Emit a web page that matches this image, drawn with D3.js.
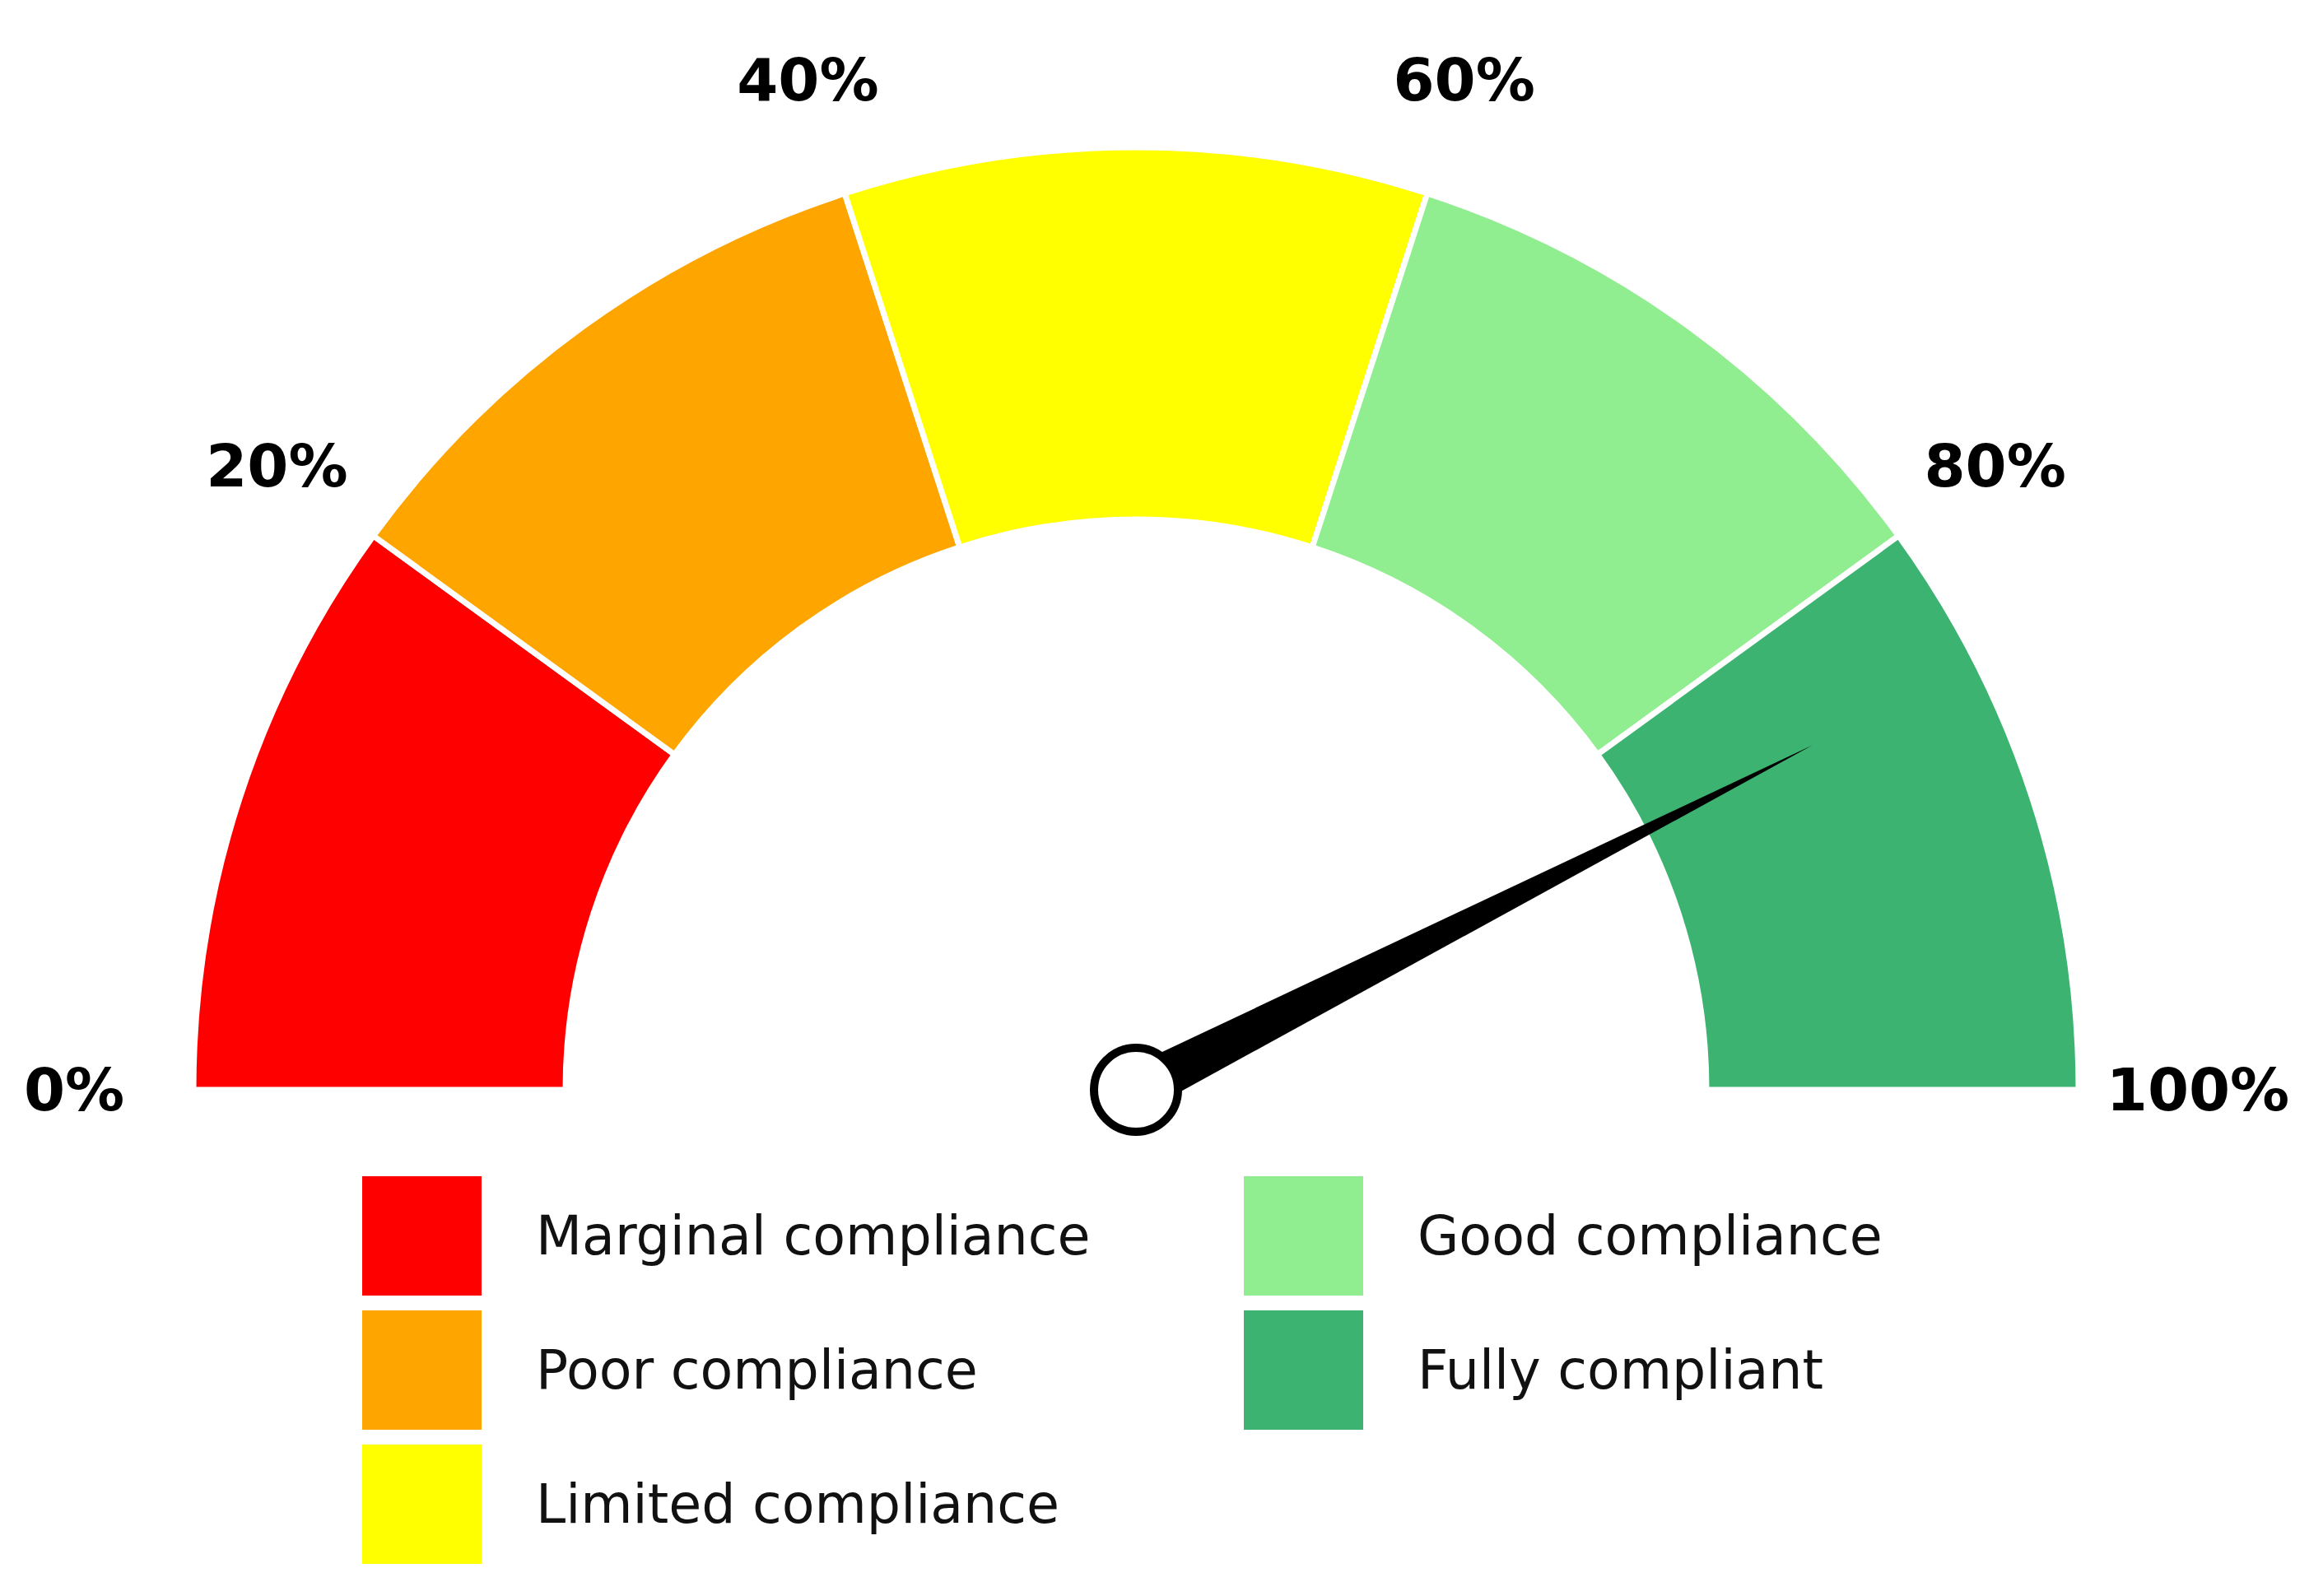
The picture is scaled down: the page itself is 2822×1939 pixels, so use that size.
<!DOCTYPE html>
<html><head><meta charset="utf-8">
<script src="https://cdn.jsdelivr.net/npm/d3@7"></script>
<style>body{margin:0;background:#fff}</style>
</head><body>
<svg id="chart" width="2822" height="1939"></svg>
<script>
const categories = ["Marginal compliance", "Poor compliance", "Limited compliance", "Good compliance", "Fully compliant"];
const colors = ["#ff0000", "#ffa500", "#ffff00", "#90ee90", "#3cb371"];
const tickLabels = ["0%", "20%", "40%", "60%", "80%", "100%"];
const tickValues = [0, 20, 40, 60, 80, 100];
const needleValue = 85;

const svg = d3.select("#chart");
const cx = 1380, cy = 1324, rOut = 1145, rIn = 693;
// value (0..100) -> angle in d3.arc convention (0 = up, clockwise)
const ang = d3.scaleLinear().domain([0, 100]).range([-Math.PI / 2, Math.PI / 2]);
const g = svg.append("g").attr("transform", `translate(${cx},${cy})`);

const arc = d3.arc().innerRadius(rIn).outerRadius(rOut);
g.selectAll("path.seg").data(categories).join("path")
  .attr("class", "seg")
  .attr("d", (d, i) => arc({startAngle: ang(i * 20), endAngle: ang((i + 1) * 20)}))
  .attr("fill", (d, i) => colors[i])
  .attr("stroke", "#fff").attr("stroke-width", 7);

const rLab = 1290;
g.selectAll("text.tick").data(tickValues).join("text")
  .attr("x", v => rLab * Math.sin(ang(v)))
  .attr("y", v => -rLab * Math.cos(ang(v)))
  .attr("text-anchor", "middle").attr("dominant-baseline", "central")
  .attr("font-family", "DejaVu Sans").attr("font-weight", "bold").attr("font-size", 72)
  .text((v, i) => tickLabels[i]);

// needle
const a = ang(needleValue), L = 922, w = 28;
const tip = [L * Math.sin(a), -L * Math.cos(a)];
const px = Math.cos(a) * w, py = Math.sin(a) * w;
g.append("path").attr("d", `M${px},${py}L${tip[0]},${tip[1]}L${-px},${-py}Z`).attr("fill", "#000");
g.append("circle").attr("r", 51).attr("fill", "#fff").attr("stroke", "#000").attr("stroke-width", 10);

// legend
const colX = [440, 1511], rowY = [1429, 1592, 1755], sw = 145;
const leg = svg.selectAll("g.leg").data(categories).join("g")
  .attr("transform", (d, i) => `translate(${colX[Math.floor(i / 3)]},${rowY[i % 3]})`);
leg.append("rect").attr("width", sw).attr("height", sw).attr("fill", (d, i) => colors[i]);
leg.append("text").attr("x", 211).attr("y", sw / 2)
  .attr("dominant-baseline", "central")
  .attr("font-family", "DejaVu Sans").attr("font-size", 65).attr("fill", "#111")
  .text(d => d);
</script>
</body></html>
